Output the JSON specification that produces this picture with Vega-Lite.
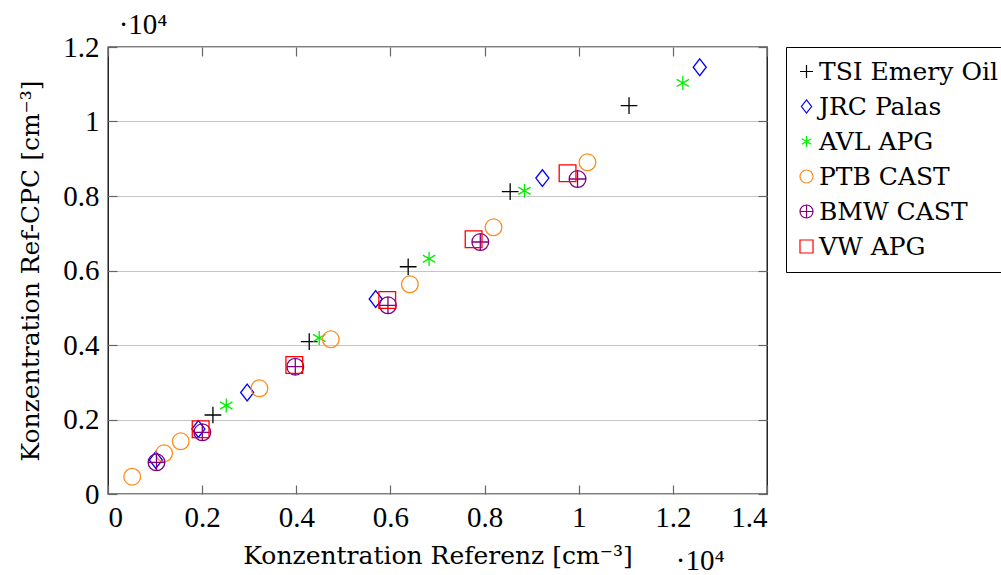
{
  "$schema": "https://vega.github.io/schema/vega-lite/v6.json",
  "width": 659,
  "height": 447,
  "autosize": {"type": "none"},
  "padding": {"left": 108, "top": 47, "right": 234, "bottom": 81},
  "background": "white",
  "config": {
    "view": {"stroke": "black", "strokeWidth": 1.3},
    "axis": {
      "labelFont": "Liberation Serif",
      "labelFontSize": 29,
      "labelColor": "black",
      "titleFont": "DejaVu Serif",
      "titleFontSize": 25,
      "titleFontWeight": "normal",
      "titleColor": "black",
      "domain": false,
      "tickColor": "#666666",
      "tickSize": -9,
      "tickWidth": 1.2
    }
  },
  "layer": [
    {
      "data": {
        "values": [
          {"s": "TSI Emery Oil", "x": 2229, "y": 2121},
          {"s": "TSI Emery Oil", "x": 4275, "y": 4090},
          {"s": "TSI Emery Oil", "x": 6377, "y": 6100},
          {"s": "TSI Emery Oil", "x": 8544, "y": 8115},
          {"s": "TSI Emery Oil", "x": 11069, "y": 10424},
          {"s": "JRC Palas", "x": 1016, "y": 913},
          {"s": "JRC Palas", "x": 1920, "y": 1745},
          {"s": "JRC Palas", "x": 2957, "y": 2725},
          {"s": "JRC Palas", "x": 5687, "y": 5235},
          {"s": "JRC Palas", "x": 9228, "y": 8480},
          {"s": "JRC Palas", "x": 12571, "y": 11456},
          {"s": "AVL APG", "x": 2512, "y": 2376},
          {"s": "AVL APG", "x": 4487, "y": 4188},
          {"s": "AVL APG", "x": 6821, "y": 6315},
          {"s": "AVL APG", "x": 8847, "y": 8141},
          {"s": "AVL APG", "x": 12212, "y": 11035},
          {"s": "PTB CAST", "x": 514, "y": 464},
          {"s": "PTB CAST", "x": 1192, "y": 1093},
          {"s": "PTB CAST", "x": 1545, "y": 1415},
          {"s": "PTB CAST", "x": 3217, "y": 2838},
          {"s": "PTB CAST", "x": 4734, "y": 4153},
          {"s": "PTB CAST", "x": 6413, "y": 5630},
          {"s": "PTB CAST", "x": 8190, "y": 7160},
          {"s": "PTB CAST", "x": 10186, "y": 8905},
          {"s": "BMW CAST", "x": 1030, "y": 851},
          {"s": "BMW CAST", "x": 2004, "y": 1656},
          {"s": "BMW CAST", "x": 3979, "y": 3417},
          {"s": "BMW CAST", "x": 5947, "y": 5065},
          {"s": "BMW CAST", "x": 7909, "y": 6765},
          {"s": "BMW CAST", "x": 9975, "y": 8456},
          {"s": "VW APG", "x": 1968, "y": 1737},
          {"s": "VW APG", "x": 3958, "y": 3463},
          {"s": "VW APG", "x": 5932, "y": 5208},
          {"s": "VW APG", "x": 7767, "y": 6837},
          {"s": "VW APG", "x": 9763, "y": 8609}
        ]
      },
      "mark": {"type": "point", "filled": false, "size": 280, "strokeWidth": 1.3, "opacity": 1},
      "encoding": {
        "x": {
          "field": "x", "type": "quantitative",
          "scale": {"domain": [0, 14000], "nice": false, "zero": false},
          "axis": {
            "orient": "bottom",
            "values": [0, 2000, 4000, 6000, 8000, 10000, 12000, 14000],
            "labelExpr": "format(datum.value / 10000, '.1~f')",
            "labelPadding": 18,
            "grid": false,
            "title": "Konzentration Referenz [cm⁻³]",
            "titlePadding": 11
          }
        },
        "y": {
          "field": "y", "type": "quantitative",
          "scale": {"domain": [0, 12000], "nice": false, "zero": false},
          "axis": {
            "orient": "left",
            "values": [0, 2000, 4000, 6000, 8000, 10000, 12000],
            "labelExpr": "format(datum.value / 10000, '.1~f')",
            "labelPadding": 18,
            "grid": true,
            "gridColor": "#c4c4c4",
            "gridWidth": 1.2,
            "title": "Konzentration Ref-CPC [cm⁻³]",
            "titlePadding": 19
          }
        },
        "color": {
          "field": "s", "type": "nominal",
          "scale": {
            "domain": ["TSI Emery Oil", "JRC Palas", "AVL APG", "PTB CAST", "BMW CAST", "VW APG"],
            "range": ["#000000", "#0000ff", "#00ee00", "#ff8c1a", "#800080", "#ff0000"]
          },
          "legend": {
            "title": null,
            "orient": "right",
            "offset": 18,
            "padding": 12,
            "strokeColor": "black",
            "fillColor": "white",
            "labelFont": "DejaVu Serif",
            "labelFontSize": 25,
            "labelColor": "black",
            "labelLimit": 300,
            "labelOffset": 0,
            "symbolOffset": -4,
            "symbolSize": 170,
            "symbolStrokeWidth": 1.2,
            "rowPadding": 9
          }
        },
        "shape": {
          "field": "s", "type": "nominal",
          "scale": {
            "domain": ["TSI Emery Oil", "JRC Palas", "AVL APG", "PTB CAST", "BMW CAST", "VW APG"],
            "range": [
              "M-1,0L1,0M0,-1L0,1",
              "M0,-1L0.78,0L0,1L-0.78,0Z",
              "M0,-0.85L0,0.85M-0.74,-0.43L0.74,0.43M-0.74,0.43L0.74,-0.43",
              "circle",
              "M1,0A1,1,0,1,1,-1,0A1,1,0,1,1,1,0ZM-1,0L1,0M0,-1L0,1",
              "square"
            ]
          }
        }
      }
    },
    {
      "data": {
        "values": [
          {"t": "·10⁴", "x": 12582, "y": -1812},
          {"t": "·10⁴", "x": 744, "y": 12604}
        ]
      },
      "mark": {"type": "text", "font": "Liberation Serif", "fontSize": 29, "baseline": "middle", "align": "center", "color": "black"},
      "encoding": {
        "x": {
          "field": "x", "type": "quantitative",
          "scale": {"domain": [0, 14000], "nice": false, "zero": false},
          "axis": {"orient": "top", "values": [0, 2000, 4000, 6000, 8000, 10000, 12000, 14000], "labels": false, "grid": false, "title": null}
        },
        "y": {
          "field": "y", "type": "quantitative",
          "scale": {"domain": [0, 12000], "nice": false, "zero": false},
          "axis": {"orient": "right", "values": [0, 2000, 4000, 6000, 8000, 10000, 12000], "labels": false, "grid": false, "title": null}
        },
        "text": {"field": "t"}
      }
    }
  ],
  "resolve": {"scale": {"x": "independent", "y": "independent"}, "axis": {"x": "independent", "y": "independent"}}
}
